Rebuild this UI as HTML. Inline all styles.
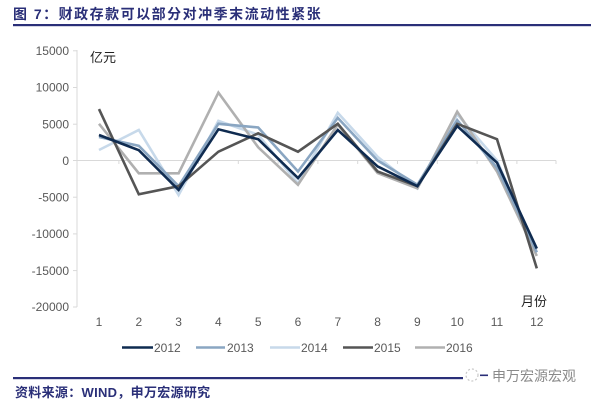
<!DOCTYPE html>
<html>
<head>
<meta charset="utf-8">
<style>
html,body{margin:0;padding:0;background:#fff;}
body{width:600px;height:404px;overflow:hidden;}
svg{display:block;}
</style>
</head>
<body>
<svg width="600" height="404" viewBox="0 0 600 404" xmlns="http://www.w3.org/2000/svg">
  <rect width="600" height="404" fill="#fff"/>
  <!-- Title -->
  <text x="13" y="19" font-family="'Liberation Sans','Noto Sans CJK SC',sans-serif" font-size="14" font-weight="bold" fill="#2a2f78" letter-spacing="1.5">图 7：财政存款可以部分对冲季末流动性紧张</text>
  <rect x="13" y="24" width="578" height="2.2" fill="#2a2f78"/>

  <!-- Y axis -->
  <line x1="77" y1="50" x2="77" y2="307" stroke="#d9d9d9" stroke-width="1"/>
  <g stroke="#d9d9d9" stroke-width="1">
    <line x1="73" y1="50.8" x2="77" y2="50.8"/>
    <line x1="73" y1="87.5" x2="77" y2="87.5"/>
    <line x1="73" y1="124.2" x2="77" y2="124.2"/>
    <line x1="73" y1="160.5" x2="77" y2="160.5"/>
    <line x1="73" y1="197.2" x2="77" y2="197.2"/>
    <line x1="73" y1="233.9" x2="77" y2="233.9"/>
    <line x1="73" y1="270.6" x2="77" y2="270.6"/>
    <line x1="73" y1="307" x2="77" y2="307"/>
  </g>
  <g font-family="'Liberation Sans',sans-serif" font-size="12" fill="#595959" text-anchor="end">
    <text x="69" y="55">15000</text>
    <text x="69" y="91.5">10000</text>
    <text x="69" y="128.5">5000</text>
    <text x="69" y="165">0</text>
    <text x="69" y="201.5">-5000</text>
    <text x="69" y="238">-10000</text>
    <text x="69" y="275">-15000</text>
    <text x="69" y="311">-20000</text>
  </g>

  <!-- zero line -->
  <line x1="77" y1="160.5" x2="556" y2="160.5" stroke="#d9d9d9" stroke-width="1"/>
  <g stroke="#d9d9d9" stroke-width="1">
    <line x1="118.9" y1="160.5" x2="118.9" y2="164"/>
    <line x1="158.7" y1="160.5" x2="158.7" y2="164"/>
    <line x1="198.5" y1="160.5" x2="198.5" y2="164"/>
    <line x1="238.3" y1="160.5" x2="238.3" y2="164"/>
    <line x1="278.1" y1="160.5" x2="278.1" y2="164"/>
    <line x1="317.9" y1="160.5" x2="317.9" y2="164"/>
    <line x1="357.7" y1="160.5" x2="357.7" y2="164"/>
    <line x1="397.5" y1="160.5" x2="397.5" y2="164"/>
    <line x1="437.3" y1="160.5" x2="437.3" y2="164"/>
    <line x1="477.1" y1="160.5" x2="477.1" y2="164"/>
    <line x1="516.9" y1="160.5" x2="516.9" y2="164"/>
    <line x1="556" y1="160.5" x2="556" y2="164"/>
  </g>

  <!-- X labels -->
  <g font-family="'Liberation Sans',sans-serif" font-size="12" fill="#595959" text-anchor="middle">
    <text x="99" y="326">1</text>
    <text x="138.8" y="326">2</text>
    <text x="178.6" y="326">3</text>
    <text x="218.4" y="326">4</text>
    <text x="258.2" y="326">5</text>
    <text x="298" y="326">6</text>
    <text x="337.8" y="326">7</text>
    <text x="377.6" y="326">8</text>
    <text x="417.4" y="326">9</text>
    <text x="457.2" y="326">10</text>
    <text x="497" y="326">11</text>
    <text x="536.8" y="326">12</text>
  </g>

  <!-- unit labels -->
  <text x="90" y="62" font-family="'Liberation Sans','Noto Sans CJK SC',sans-serif" font-size="13" fill="#222">亿元</text>
  <text x="521" y="306" font-family="'Liberation Sans','Noto Sans CJK SC',sans-serif" font-size="13" fill="#222">月份</text>

  <!-- Series -->
  <g fill="none" stroke-width="2.6" stroke-linejoin="miter" stroke-linecap="butt">
    <polyline stroke="#c7d9ea" points="99,150 138.8,130 178.6,195 218.4,120.9 258.2,134.8 298,183.3 337.8,112.8 377.6,156.8 417.4,188.4 457.2,114.3 497,160.5 536.8,252.3"/>
    <polyline stroke="#b0b0b0" points="99,123.8 138.8,173.3 178.6,173.3 218.4,92.6 258.2,147.3 298,184.7 337.8,124.5 377.6,173 417.4,188.4 457.2,111.7 497,171.5 536.8,255.9"/>
    <polyline stroke="#8aa6c2" points="99,137 138.8,145.8 178.6,186.2 218.4,123.8 258.2,127.5 298,171.5 337.8,117.9 377.6,160.5 417.4,184.7 457.2,120.1 497,167.8 536.8,252.3"/>
    <polyline stroke="#555555" points="99,109.1 138.8,194.3 178.6,186.2 218.4,151.7 258.2,133.3 298,151.7 337.8,123.8 377.6,171.5 417.4,186.2 457.2,123.8 497,139.2 536.8,268.4"/>
    <polyline stroke="#0f2b50" points="99,135 138.8,150.2 178.6,189.9 218.4,129.3 258.2,139.2 298,178.1 337.8,130 377.6,166.4 417.4,186.2 457.2,126 497,162.7 536.8,248.6"/>
  </g>

  <!-- Legend -->
  <g stroke-width="2.6">
    <line x1="122" y1="347.5" x2="153" y2="347.5" stroke="#0f2b50"/>
    <line x1="196" y1="347.5" x2="225" y2="347.5" stroke="#8aa6c2"/>
    <line x1="270" y1="347.5" x2="300" y2="347.5" stroke="#c7d9ea"/>
    <line x1="343" y1="347.5" x2="373" y2="347.5" stroke="#555555"/>
    <line x1="415" y1="347.5" x2="445" y2="347.5" stroke="#b0b0b0"/>
  </g>
  <g font-family="'Liberation Sans',sans-serif" font-size="12" fill="#595959">
    <text x="154" y="352">2012</text>
    <text x="227" y="352">2013</text>
    <text x="301" y="352">2014</text>
    <text x="374" y="352">2015</text>
    <text x="446" y="352">2016</text>
  </g>

  <!-- Bottom rule + footer -->
  <rect x="13" y="377" width="450" height="2.2" fill="#2a2f78"/>
  <circle cx="472" cy="375" r="6" fill="none" stroke="#c8c8c8" stroke-width="1.2" stroke-dasharray="2 2"/>
  <rect x="480" y="374.5" width="8" height="1.6" fill="#2a2f78"/>
  <text x="492" y="381" font-family="'Liberation Sans','Noto Sans CJK SC',sans-serif" font-size="14" fill="#8a8a8a">申万宏源宏观</text>
  <text x="15" y="397" font-family="'Liberation Sans','Noto Sans CJK SC',sans-serif" font-size="13" font-weight="bold" fill="#2a2f78" letter-spacing="0.3">资料来源：WIND，申万宏源研究</text>
</svg>
</body>
</html>
